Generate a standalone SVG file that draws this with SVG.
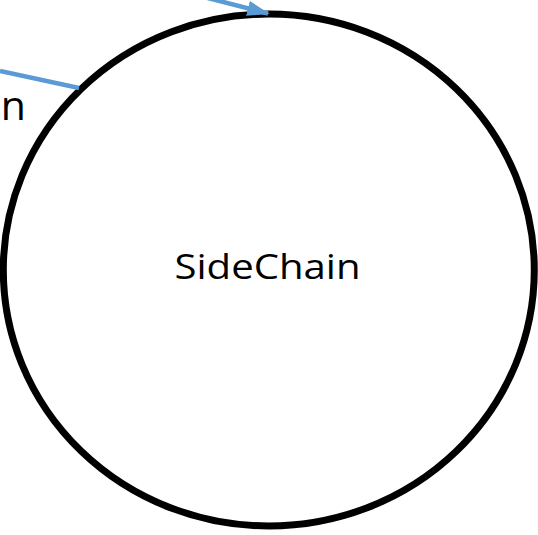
<svg xmlns="http://www.w3.org/2000/svg" width="538" height="535" viewBox="0 0 538 535">
<style>
.conn{stroke:#5B9BD5;stroke-width:4.5;fill:none}
.node{fill:#fff;stroke:#000;stroke-width:7}
.lbl{font-family:"Open Sans","Liberation Sans",sans-serif;fill:#000}
</style>
<defs>
<marker id="ah" markerWidth="5" markerHeight="3.4" refX="4.6" refY="1.7" orient="auto" markerUnits="strokeWidth">
<path d="M0,0 L5,1.7 L0,3.4 Z" fill="#5B9BD5"/>
</marker>
</defs>
<rect width="538" height="535" fill="#fff"/>
<g id="sidechain">
<ellipse class="node" cx="268.8" cy="270" rx="265.5" ry="256"/>
<text class="lbl" x="267.5" y="279" font-size="34" text-anchor="middle" textLength="186" lengthAdjust="spacingAndGlyphs">SideChain</text>
</g>
<g id="offscreen-label">
<text class="lbl" x="26" y="120" font-size="41" text-anchor="end">n</text>
</g>
<g id="connectors">
<line class="conn" x1="79" y1="88" x2="0" y2="71"/>
<line class="conn" x1="200" y1="-4" x2="268" y2="13.5" marker-end="url(#ah)"/>
</g>
</svg>
